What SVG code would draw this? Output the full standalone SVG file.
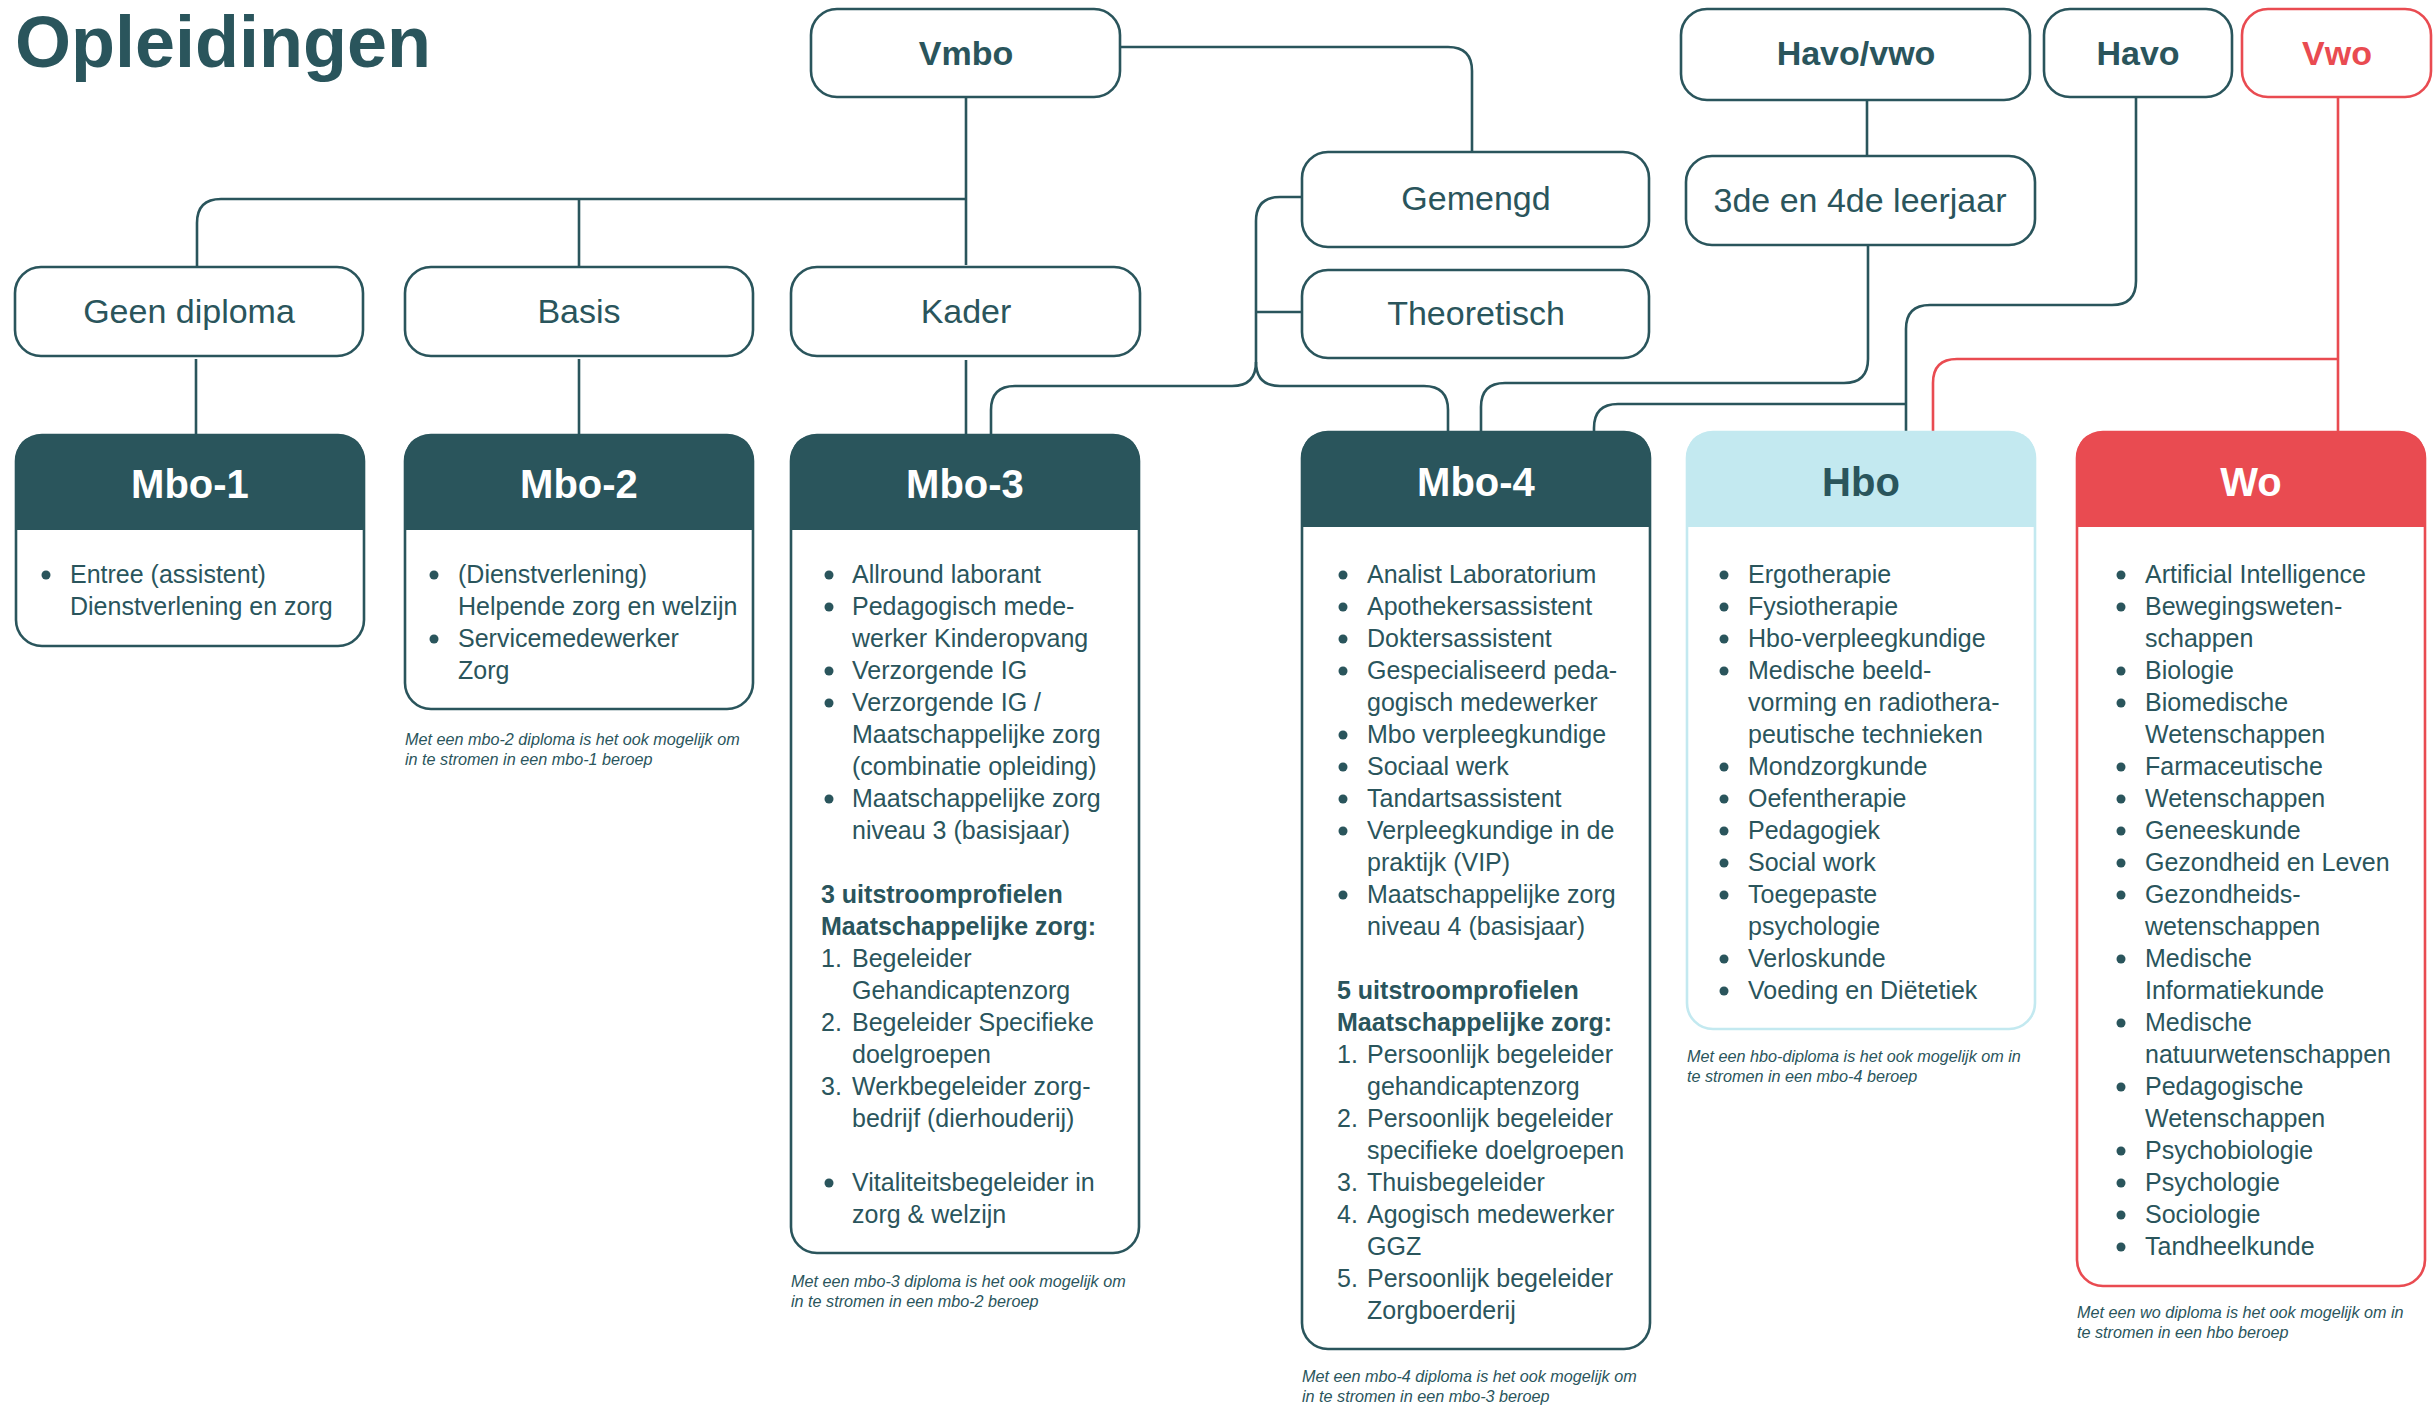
<svg xmlns="http://www.w3.org/2000/svg" width="2434" height="1407" viewBox="0 0 2434 1407">
<style>
.t{font-family:"Liberation Sans",Arial,sans-serif;fill:#2A555C}
.title{font-size:72px;font-weight:bold}
.lvl{font-size:34px;text-anchor:middle}
.lvlb{font-size:34px;font-weight:bold;text-anchor:middle}
.hdr{font-size:40px;font-weight:bold;text-anchor:middle;fill:#fff}
.li{font-size:25px}
.lb{font-size:25px;font-weight:bold}
.fn{font-size:16.2px;font-style:italic}
.box{fill:#fff;stroke:#2A555C;stroke-width:2.6}
.red{stroke:#E94B51}
.con{fill:none;stroke:#2A555C;stroke-width:2.6}
.conr{fill:none;stroke:#E94B51;stroke-width:2.6}
.dot{fill:#2A555C}
</style>

<text class="t title" x="15" y="67">Opleidingen</text>

<g id="connectors">
<path class="con" d="M966,97 V265"/>
<path class="con" d="M966,199 H221 Q197,199 197,223 V267"/>
<path class="con" d="M579,199 V267"/>
<path class="con" d="M196,359 V435"/>
<path class="con" d="M579,359 V435"/>
<path class="con" d="M966,360 V435"/>
<path class="con" d="M1120,47 H1448 Q1472,47 1472,71 V152"/>
<path class="con" d="M1302,197 H1280 Q1256,197 1256,221 V362 Q1256,386 1232,386 H1015 Q991,386 991,410 V435"/>
<path class="con" d="M1256,312 H1302"/>
<path class="con" d="M1256,362 Q1256,386 1280,386 H1424 Q1448,386 1448,410 V432"/>
<path class="con" d="M1867,100 V156"/>
<path class="con" d="M1868,245 V359 Q1868,383 1844,383 H1505 Q1481,383 1481,407 V432"/>
<path class="con" d="M2136,97 V281 Q2136,305 2112,305 H1930 Q1906,305 1906,329 V431"/>
<path class="con" d="M1906,404 H1618 Q1594,404 1594,428 V432"/>
<path class="conr" d="M2338,97 V431"/>
<path class="conr" d="M2338,359 H1957 Q1933,359 1933,383 V431"/>
</g>

<g id="vmbo"><rect class="box" x="811" y="9" width="309" height="88" rx="26"/><text class="t lvlb" x="966" y="65">Vmbo</text></g>
<g id="havovwo"><rect class="box" x="1681" y="9" width="349" height="91" rx="26"/><text class="t lvlb" x="1856" y="65">Havo/vwo</text></g>
<g id="havo"><rect class="box" x="2044" y="9" width="188" height="88" rx="26"/><text class="t lvlb" x="2138" y="65">Havo</text></g>
<g id="vwo"><rect class="box red" x="2242" y="9" width="189" height="88" rx="26"/><text class="t lvlb" x="2337" y="65" style="fill:#E94B51">Vwo</text></g>
<g id="gemengd"><rect class="box" x="1302" y="152" width="347" height="95" rx="26"/><text class="t lvl" x="1476" y="210">Gemengd</text></g>
<g id="leerjaar"><rect class="box" x="1686" y="156" width="349" height="89" rx="26"/><text class="t lvl" x="1860" y="212">3de en 4de leerjaar</text></g>
<g id="theoretisch"><rect class="box" x="1302" y="270" width="347" height="88" rx="26"/><text class="t lvl" x="1476" y="325">Theoretisch</text></g>
<g id="geendiploma"><rect class="box" x="15" y="267" width="348" height="89" rx="26"/><text class="t lvl" x="189" y="323">Geen diploma</text></g>
<g id="basis"><rect class="box" x="405" y="267" width="348" height="89" rx="26"/><text class="t lvl" x="579" y="323">Basis</text></g>
<g id="kader"><rect class="box" x="791" y="267" width="349" height="89" rx="26"/><text class="t lvl" x="966" y="323">Kader</text></g>

<!-- Mbo-1 -->
<g id="mbo1">
<rect class="box" x="16" y="435" width="348" height="211" rx="26"/>
<path d="M16,530 V461 Q16,435 42,435 H338 Q364,435 364,461 V530 Z" fill="#2A555C"/>
<text class="t hdr" x="190" y="498">Mbo-1</text>
<circle class="dot" cx="46" cy="575" r="4.5"/>
<text class="t li"><tspan x="70" y="583">Entree (assistent)</tspan><tspan x="70" y="615">Dienstverlening en zorg</tspan></text>
</g>

<!-- Mbo-2 -->
<g id="mbo2">
<rect class="box" x="405" y="435" width="348" height="274" rx="26"/>
<path d="M405,530 V461 Q405,435 431,435 H727 Q753,435 753,461 V530 Z" fill="#2A555C"/>
<text class="t hdr" x="579" y="498">Mbo-2</text>
<circle class="dot" cx="434" cy="575" r="4.5"/>
<circle class="dot" cx="434" cy="639" r="4.5"/>
<text class="t li"><tspan x="458" y="583">(Dienstverlening)</tspan><tspan x="458" y="615">Helpende zorg en welzijn</tspan><tspan x="458" y="647">Servicemedewerker</tspan><tspan x="458" y="679">Zorg</tspan></text>
<text class="t fn"><tspan x="405" y="745">Met een mbo-2 diploma is het ook mogelijk om</tspan><tspan x="405" y="765">in te stromen in een mbo-1 beroep</tspan></text>
</g>

<!-- Mbo-3 -->
<g id="mbo3">
<rect class="box" x="791" y="435" width="348" height="818" rx="26"/>
<path d="M791,530 V461 Q791,435 817,435 H1113 Q1139,435 1139,461 V530 Z" fill="#2A555C"/>
<text class="t hdr" x="965" y="498">Mbo-3</text>
<g class="dot">
<circle cx="829" cy="575" r="4.5"/><circle cx="829" cy="607" r="4.5"/><circle cx="829" cy="671" r="4.5"/><circle cx="829" cy="703" r="4.5"/><circle cx="829" cy="799" r="4.5"/><circle cx="829" cy="1183" r="4.5"/>
</g>
<text class="t li">
<tspan x="852" y="583">Allround laborant</tspan>
<tspan x="852" y="615">Pedagogisch mede-</tspan>
<tspan x="852" y="647">werker Kinderopvang</tspan>
<tspan x="852" y="679">Verzorgende IG</tspan>
<tspan x="852" y="711">Verzorgende IG /</tspan>
<tspan x="852" y="743">Maatschappelijke zorg</tspan>
<tspan x="852" y="775">(combinatie opleiding)</tspan>
<tspan x="852" y="807">Maatschappelijke zorg</tspan>
<tspan x="852" y="839">niveau 3 (basisjaar)</tspan>
<tspan x="821" y="967">1.</tspan><tspan x="852" y="967">Begeleider</tspan>
<tspan x="852" y="999">Gehandicaptenzorg</tspan>
<tspan x="821" y="1031">2.</tspan><tspan x="852" y="1031">Begeleider Specifieke</tspan>
<tspan x="852" y="1063">doelgroepen</tspan>
<tspan x="821" y="1095">3.</tspan><tspan x="852" y="1095">Werkbegeleider zorg-</tspan>
<tspan x="852" y="1127">bedrijf (dierhouderij)</tspan>
<tspan x="852" y="1191">Vitaliteitsbegeleider in</tspan>
<tspan x="852" y="1223">zorg &amp; welzijn</tspan>
</text>
<text class="t lb"><tspan x="821" y="903">3 uitstroomprofielen</tspan><tspan x="821" y="935">Maatschappelijke zorg:</tspan></text>
<text class="t fn"><tspan x="791" y="1287">Met een mbo-3 diploma is het ook mogelijk om</tspan><tspan x="791" y="1307">in te stromen in een mbo-2 beroep</tspan></text>
</g>

<!-- Mbo-4 -->
<g id="mbo4">
<rect class="box" x="1302" y="432" width="348" height="917" rx="26"/>
<path d="M1302,527 V458 Q1302,432 1328,432 H1624 Q1650,432 1650,458 V527 Z" fill="#2A555C"/>
<text class="t hdr" x="1476" y="496">Mbo-4</text>
<g class="dot">
<circle cx="1343" cy="575" r="4.5"/><circle cx="1343" cy="607" r="4.5"/><circle cx="1343" cy="639" r="4.5"/><circle cx="1343" cy="671" r="4.5"/><circle cx="1343" cy="735" r="4.5"/><circle cx="1343" cy="767" r="4.5"/><circle cx="1343" cy="799" r="4.5"/><circle cx="1343" cy="831" r="4.5"/><circle cx="1343" cy="895" r="4.5"/>
</g>
<text class="t li">
<tspan x="1367" y="583">Analist Laboratorium</tspan>
<tspan x="1367" y="615">Apothekersassistent</tspan>
<tspan x="1367" y="647">Doktersassistent</tspan>
<tspan x="1367" y="679">Gespecialiseerd peda-</tspan>
<tspan x="1367" y="711">gogisch medewerker</tspan>
<tspan x="1367" y="743">Mbo verpleegkundige</tspan>
<tspan x="1367" y="775">Sociaal werk</tspan>
<tspan x="1367" y="807">Tandartsassistent</tspan>
<tspan x="1367" y="839">Verpleegkundige in de</tspan>
<tspan x="1367" y="871">praktijk (VIP)</tspan>
<tspan x="1367" y="903">Maatschappelijke zorg</tspan>
<tspan x="1367" y="935">niveau 4 (basisjaar)</tspan>
<tspan x="1337" y="1063">1.</tspan><tspan x="1367" y="1063">Persoonlijk begeleider</tspan>
<tspan x="1367" y="1095">gehandicaptenzorg</tspan>
<tspan x="1337" y="1127">2.</tspan><tspan x="1367" y="1127">Persoonlijk begeleider</tspan>
<tspan x="1367" y="1159">specifieke doelgroepen</tspan>
<tspan x="1337" y="1191">3.</tspan><tspan x="1367" y="1191">Thuisbegeleider</tspan>
<tspan x="1337" y="1223">4.</tspan><tspan x="1367" y="1223">Agogisch medewerker</tspan>
<tspan x="1367" y="1255">GGZ</tspan>
<tspan x="1337" y="1287">5.</tspan><tspan x="1367" y="1287">Persoonlijk begeleider</tspan>
<tspan x="1367" y="1319">Zorgboerderij</tspan>
</text>
<text class="t lb"><tspan x="1337" y="999">5 uitstroomprofielen</tspan><tspan x="1337" y="1031">Maatschappelijke zorg:</tspan></text>
<text class="t fn"><tspan x="1302" y="1382">Met een mbo-4 diploma is het ook mogelijk om</tspan><tspan x="1302" y="1402">in te stromen in een mbo-3 beroep</tspan></text>
</g>

<!-- Hbo -->
<g id="hbo">
<rect class="box" x="1687" y="432" width="348" height="597" rx="26" style="stroke:#C3E9F0"/>
<path d="M1687,527 V458 Q1687,432 1713,432 H2009 Q2035,432 2035,458 V527 Z" fill="#C3E9F0"/>
<text class="t hdr" x="1861" y="496" style="fill:#2A555C">Hbo</text>
<g class="dot">
<circle cx="1724" cy="575" r="4.5"/><circle cx="1724" cy="607" r="4.5"/><circle cx="1724" cy="639" r="4.5"/><circle cx="1724" cy="671" r="4.5"/><circle cx="1724" cy="767" r="4.5"/><circle cx="1724" cy="799" r="4.5"/><circle cx="1724" cy="831" r="4.5"/><circle cx="1724" cy="863" r="4.5"/><circle cx="1724" cy="895" r="4.5"/><circle cx="1724" cy="959" r="4.5"/><circle cx="1724" cy="991" r="4.5"/>
</g>
<text class="t li">
<tspan x="1748" y="583">Ergotherapie</tspan>
<tspan x="1748" y="615">Fysiotherapie</tspan>
<tspan x="1748" y="647">Hbo-verpleegkundige</tspan>
<tspan x="1748" y="679">Medische beeld-</tspan>
<tspan x="1748" y="711">vorming en radiothera-</tspan>
<tspan x="1748" y="743">peutische technieken</tspan>
<tspan x="1748" y="775">Mondzorgkunde</tspan>
<tspan x="1748" y="807">Oefentherapie</tspan>
<tspan x="1748" y="839">Pedagogiek</tspan>
<tspan x="1748" y="871">Social work</tspan>
<tspan x="1748" y="903">Toegepaste</tspan>
<tspan x="1748" y="935">psychologie</tspan>
<tspan x="1748" y="967">Verloskunde</tspan>
<tspan x="1748" y="999">Voeding en Diëtetiek</tspan>
</text>
<text class="t fn"><tspan x="1687" y="1062">Met een hbo-diploma is het ook mogelijk om in</tspan><tspan x="1687" y="1082">te stromen in een mbo-4 beroep</tspan></text>
</g>

<!-- Wo -->
<g id="wo">
<rect class="box red" x="2077" y="432" width="348" height="854" rx="26"/>
<path d="M2077,527 V458 Q2077,432 2103,432 H2399 Q2425,432 2425,458 V527 Z" fill="#E94B51"/>
<text class="t hdr" x="2251" y="496">Wo</text>
<g class="dot">
<circle cx="2121" cy="575" r="4.5"/><circle cx="2121" cy="607" r="4.5"/><circle cx="2121" cy="671" r="4.5"/><circle cx="2121" cy="703" r="4.5"/><circle cx="2121" cy="767" r="4.5"/><circle cx="2121" cy="799" r="4.5"/><circle cx="2121" cy="831" r="4.5"/><circle cx="2121" cy="863" r="4.5"/><circle cx="2121" cy="895" r="4.5"/><circle cx="2121" cy="959" r="4.5"/><circle cx="2121" cy="1023" r="4.5"/><circle cx="2121" cy="1087" r="4.5"/><circle cx="2121" cy="1151" r="4.5"/><circle cx="2121" cy="1183" r="4.5"/><circle cx="2121" cy="1215" r="4.5"/><circle cx="2121" cy="1247" r="4.5"/>
</g>
<text class="t li">
<tspan x="2145" y="583">Artificial Intelligence</tspan>
<tspan x="2145" y="615">Bewegingsweten-</tspan>
<tspan x="2145" y="647">schappen</tspan>
<tspan x="2145" y="679">Biologie</tspan>
<tspan x="2145" y="711">Biomedische</tspan>
<tspan x="2145" y="743">Wetenschappen</tspan>
<tspan x="2145" y="775">Farmaceutische</tspan>
<tspan x="2145" y="807">Wetenschappen</tspan>
<tspan x="2145" y="839">Geneeskunde</tspan>
<tspan x="2145" y="871">Gezondheid en Leven</tspan>
<tspan x="2145" y="903">Gezondheids-</tspan>
<tspan x="2145" y="935">wetenschappen</tspan>
<tspan x="2145" y="967">Medische</tspan>
<tspan x="2145" y="999">Informatiekunde</tspan>
<tspan x="2145" y="1031">Medische</tspan>
<tspan x="2145" y="1063">natuurwetenschappen</tspan>
<tspan x="2145" y="1095">Pedagogische</tspan>
<tspan x="2145" y="1127">Wetenschappen</tspan>
<tspan x="2145" y="1159">Psychobiologie</tspan>
<tspan x="2145" y="1191">Psychologie</tspan>
<tspan x="2145" y="1223">Sociologie</tspan>
<tspan x="2145" y="1255">Tandheelkunde</tspan>
</text>
<text class="t fn"><tspan x="2077" y="1318">Met een wo diploma is het ook mogelijk om in</tspan><tspan x="2077" y="1338">te stromen in een hbo beroep</tspan></text>
</g>
</svg>
